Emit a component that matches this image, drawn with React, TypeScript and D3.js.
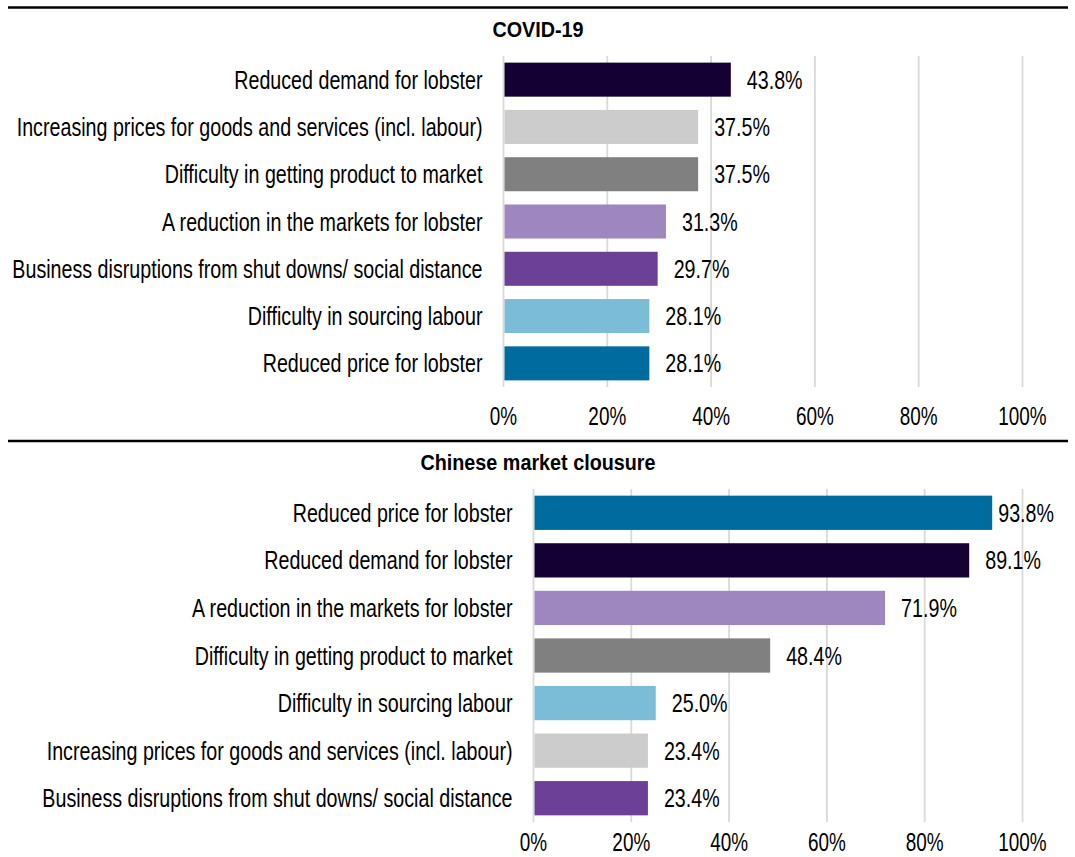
import React from "react";
import * as d3 from "d3";

// ---- Data ----
const covidTitle = "COVID-19";
const covidCategories = [
  "Reduced demand for lobster",
  "Increasing prices for goods and services (incl. labour)",
  "Difficulty in getting product to market",
  "A reduction in the markets for lobster",
  "Business disruptions from shut downs/ social distance",
  "Difficulty in sourcing labour",
  "Reduced price for lobster",
];
const covidValues = [43.8, 37.5, 37.5, 31.3, 29.7, 28.1, 28.1];

const chinaTitle = "Chinese market clousure";
const chinaCategories = [
  "Reduced price for lobster",
  "Reduced demand for lobster",
  "A reduction in the markets for lobster",
  "Difficulty in getting product to market",
  "Difficulty in sourcing labour",
  "Increasing prices for goods and services (incl. labour)",
  "Business disruptions from shut downs/ social distance",
];
const chinaValues = [93.8, 89.1, 71.9, 48.4, 25.0, 23.4, 23.4];

const tickValues = [0, 20, 40, 60, 80, 100];
const tickLabels = ["0%", "20%", "40%", "60%", "80%", "100%"];

const paletteKeys = [
  "Reduced demand for lobster",
  "Increasing prices for goods and services (incl. labour)",
  "Difficulty in getting product to market",
  "A reduction in the markets for lobster",
  "Business disruptions from shut downs/ social distance",
  "Difficulty in sourcing labour",
  "Reduced price for lobster",
];
const paletteColors = [
  "#150033",
  "#cccccc",
  "#808080",
  "#9e87bf",
  "#6c4097",
  "#7bbdd7",
  "#006b9e",
];

// ---- Layout ----
const W = 1075;
const H = 857;
const LINE_X0 = 8;
const LINE_X1 = 1068;
const TITLE_CX = 538;
const X_RIGHT = 1022.5;
const LABEL_RIGHT_LIMIT = 1054;
const FONT = "'Liberation Sans', Arial, Helvetica, sans-serif";
const SX = 0.757;

type PanelProps = {
  title: string;
  categories: string[];
  values: number[];
  lineY: number;
  x0: number;
  top: number;
  bottom: number;
  tickOffset: number;
};

const color = d3.scaleOrdinal<string, string>().domain(paletteKeys).range(paletteColors);

function Txt(props: {
  x: number;
  y: number;
  anchor: "start" | "middle" | "end";
  size: number;
  sx: number;
  weight?: string;
  children: React.ReactNode;
}) {
  return (
    <text
      transform={`translate(${props.x},${props.y}) scale(${props.sx},1)`}
      textAnchor={props.anchor}
      fontFamily={FONT}
      fontSize={props.size}
      fontWeight={props.weight || "normal"}
      fill="#000"
    >
      {props.children}
    </text>
  );
}

function Panel({ title, categories, values, lineY, x0, top, bottom, tickOffset }: PanelProps) {
  const x = d3.scaleLinear().domain([0, 100]).range([x0, X_RIGHT]);
  const y = d3
    .scaleBand<string>()
    .domain(categories)
    .range([top, bottom])
    .paddingInner(0.28)
    .paddingOuter(0.14);
  const bw = y.bandwidth();
  const valSize = 26;
  const valWidthPerEm = valSize * SX;
  return (
    <g>
      <line x1={LINE_X0} x2={LINE_X1} y1={lineY} y2={lineY} stroke="#000" strokeWidth={2.5} />
      <Txt x={TITLE_CX} y={lineY + 29} anchor="middle" size={21.5} sx={0.92} weight="bold">
        {title}
      </Txt>
      {tickValues.map((t) => (
        <line
          key={"g" + t}
          x1={x(t)}
          x2={x(t)}
          y1={top}
          y2={bottom}
          stroke="#d9d9d9"
          strokeWidth={1.8}
        />
      ))}
      {categories.map((c, i) => {
        const yc = (y(c) as number) + bw / 2;
        const end = x(values[i]);
        const label = values[i].toFixed(1) + "%";
        const lw = 2.835 * valWidthPerEm;
        const lx = Math.min(end + 16, LABEL_RIGHT_LIMIT - lw);
        return (
          <g key={c}>
            <rect x={x0 + 1} y={y(c) as number} width={Math.max(0, end - x0 - 1)} height={bw} fill={color(c)} />
            <Txt x={x0 - 21} y={yc + 9} anchor="end" size={26} sx={SX}>
              {c}
            </Txt>
            <Txt x={lx} y={yc + 9} anchor="start" size={valSize} sx={SX}>
              {label}
            </Txt>
          </g>
        );
      })}
      {tickValues.map((t, i) => (
        <Txt key={"t" + t} x={x(t)} y={bottom + tickOffset} anchor="middle" size={25} sx={SX}>
          {tickLabels[i]}
        </Txt>
      ))}
    </g>
  );
}

export default function App() {
  return (
    <svg
      width={W}
      height={H}
      viewBox={`0 0 ${W} ${H}`}
      style={{ position: "absolute", left: 0, top: 0, display: "block", background: "#fff" }}
    >
      <rect x={0} y={0} width={W} height={H} fill="#fff" />
      <Panel
        title={covidTitle}
        categories={covidCategories}
        values={covidValues}
        lineY={7.5}
        x0={503.5}
        top={56}
        bottom={387}
        tickOffset={38}
      />
      <Panel
        title={chinaTitle}
        categories={chinaCategories}
        values={chinaValues}
        lineY={441}
        x0={533.5}
        top={489}
        bottom={822}
        tickOffset={29}
      />
    </svg>
  );
}
